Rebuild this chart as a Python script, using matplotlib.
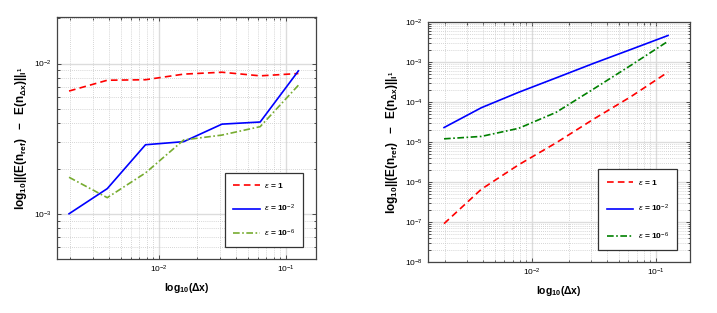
import matplotlib
matplotlib.use("Agg")
import matplotlib.pyplot as plt
import numpy as np

plt.rcParams['font.family'] = ['Liberation Sans', 'DejaVu Sans']
plt.rcParams['mathtext.fontset'] = 'custom'
plt.rcParams['mathtext.rm'] = 'Liberation Sans'
plt.rcParams['mathtext.it'] = 'Liberation Sans:italic'
plt.rcParams['mathtext.bf'] = 'Liberation Sans:bold'

dx = [1/512, 1/256, 1/128, 1/64, 1/32, 1/16, 1/8]
labels = [r'$\epsilon$ = 1', r'$\epsilon$ = 10$^{-2}$', r'$\epsilon$ = 10$^{-6}$']

# left panel
left_eps1 = [6.56e-3, 7.74e-3, 7.8e-3, 8.5e-3, 8.75e-3, 8.28e-3, 8.58e-3]
left_eps2 = [1.0e-3, 1.47e-3, 2.88e-3, 3.02e-3, 3.95e-3, 4.08e-3, 8.93e-3]
left_eps6 = [1.75e-3, 1.28e-3, 1.87e-3, 3.1e-3, 3.34e-3, 3.8e-3, 7.17e-3]

# right panel
right_eps1 = [9.1e-8, 6.6e-7, 2.7e-6, 9.5e-6, 3.7e-5, 1.35e-4, 5.6e-4]
right_eps2 = [2.3e-5, 7.2e-5, 1.75e-4, 4.0e-4, 9.2e-4, 2.05e-3, 4.6e-3]
right_eps6 = [1.2e-5, 1.38e-5, 2.2e-5, 5.5e-5, 2.1e-4, 8.2e-4, 3.3e-3]

fig = plt.figure(figsize=(7.17, 3.13), dpi=100)
axL = fig.add_axes([57/717, 1-259/313, 259/717, 242/313])
axR = fig.add_axes([428/717, 1-262/313, 262/717, 240/313])

ylab = r'$\mathbf{log_{10}||(E(n_{ref})\ \ -\ \ E(n_{\Delta x})||_{l^1}}$'
xlab = r'$\mathbf{log_{10}(\Delta x)}$'

def style(ax, xlim, ylim):
    ax.set_xscale('log')
    ax.set_yscale('log')
    ax.set_xlim(*xlim)
    ax.set_ylim(*ylim)
    ax.grid(True, which='major', color='#dcdcdc', linewidth=1.0, linestyle='-')
    ax.grid(True, which='minor', color='#c8c8c8', linewidth=0.6, linestyle=(0, (1, 1.5)))
    ax.tick_params(which='both', direction='in', top=True, right=True,
                   labelsize=6, width=0.6, colors='#333333', labelcolor='black')
    ax.tick_params(which='major', length=3)
    ax.tick_params(which='minor', length=1.8)
    for s in ax.spines.values():
        s.set_linewidth(0.9)
        s.set_color('#444444')
    ax.set_xlabel(xlab, fontsize=7.5, labelpad=4)
    ax.set_ylabel(ylab, fontsize=8.5, labelpad=4)

style(axL, (1.57e-3, 0.172), (5.0e-4, 2.04e-2))
axL.plot(dx, left_eps1, color='#ff0000', linestyle=(0, (4, 2.5)), linewidth=1.2, label=labels[0])
axL.plot(dx, left_eps2, color='#0000ff', linestyle='-', linewidth=1.2, label=labels[1])
axL.plot(dx, left_eps6, color='#77ac30', linestyle=(0, (4, 1.5, 1, 1.5)), linewidth=1.2, label=labels[2])

style(axR, (1.45e-3, 0.188), (1e-8, 1e-2))
axR.plot(dx, right_eps1, color='#ff0000', linestyle=(0, (4, 2.5)), linewidth=1.2, label=labels[0])
axR.plot(dx, right_eps2, color='#0000ff', linestyle='-', linewidth=1.2, label=labels[1])
axR.plot(dx, right_eps6, color='#008000', linestyle=(0, (4, 1.5, 1, 1.5)), linewidth=1.2, label=labels[2])

for ax, anchor, lsp in [(axL, (0.95, 0.05), 1.55), (axR, (0.95, 0.05), 1.95)]:
    leg = ax.legend(loc='lower right', bbox_to_anchor=anchor,
                    prop={'weight': 'bold', 'size': 6},
                    handlelength=3.2, handletextpad=0.5, labelspacing=lsp,
                    borderpad=1.0, borderaxespad=0.0,
                    fancybox=False, framealpha=1, edgecolor='#333333')
    leg.get_frame().set_linewidth(0.9)

fig.savefig('out.png', dpi=100)
